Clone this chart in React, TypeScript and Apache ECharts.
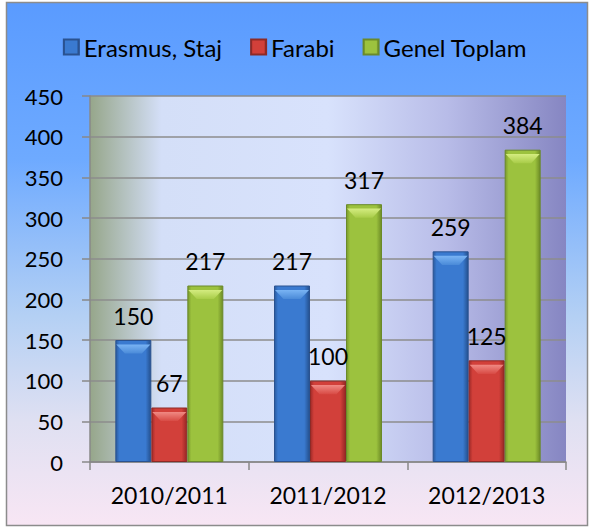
import React, { useEffect, useRef } from "react";
import * as echarts from "echarts";

const categories = ["2010/2011", "2011/2012", "2012/2013"];
const erasmus = [150, 217, 259];
const farabi = [67, 100, 125];
const genel = [217, 317, 384];
const seriesNames = ["Erasmus, Staj", "Farabi", "Genel Toplam"];

const FONT = "Lato, 'Open Sans', sans-serif";

const hgrad = (edge: string, mid: string, edge2: string) => ({
  type: "linear",
  x: 0,
  y: 0,
  x2: 1,
  y2: 0,
  colorStops: [
    { offset: 0, color: edge },
    { offset: 0.1, color: mid },
    { offset: 0.85, color: mid },
    { offset: 1, color: edge2 },
  ],
});

const vgrad = (top: string, bottom: string) => ({
  type: "linear",
  x: 0,
  y: 0,
  x2: 0,
  y2: 1,
  colorStops: [
    { offset: 0, color: top },
    { offset: 1, color: bottom },
  ],
});

export default function App() {
  const ref = useRef<HTMLDivElement>(null);
  useEffect(() => {
    if (!ref.current) return;
    const chart = echarts.init(ref.current, null, { renderer: "svg" });
    const label = {
      show: true,
      position: "top",
      distance: 13,
      color: "#000",
      fontSize: 23,
      fontFamily: FONT,
    };
    const mk = (name: string, data: number[], fill: any, border: string) => ({
      name,
      type: "bar",
      data,
      barWidth: 36,
      barGap: "0%",
      itemStyle: { color: fill, borderColor: border, borderWidth: 1 },
      label,
    });
    const bevel = (name: string, data: number[], fill: any) => ({
      name,
      type: "pictorialBar",
      data,
      barWidth: 36,
      barGap: "0%",
      symbol: "path://M0,0 L36,0 L27,9 L9,9 Z",
      symbolSize: [34, 9],
      symbolPosition: "end",
      symbolOffset: [0, "50%"],
      symbolRepeat: false,
      itemStyle: { color: fill },
      z: 3,
      silent: true,
      label: { show: false },
    });
    chart.setOption({
      animation: false,
      backgroundColor: "#ffffff",
      graphic: [
        {
          type: "rect",
          z: -10,
          silent: true,
          shape: { x: 6.5, y: 2.5, width: 581, height: 523 },
          style: {
            fill: {
              type: "linear",
              x: 0,
              y: 0,
              x2: 0,
              y2: 1,
              colorStops: [
                { offset: 0, color: "#5a9bff" },
                { offset: 0.3, color: "#6eaaff" },
                { offset: 0.6, color: "#b4d0f4" },
                { offset: 0.8, color: "#dfe0f2" },
                { offset: 1, color: "#f8e6f4" },
              ],
            },
            stroke: "#8c8c8c",
            lineWidth: 1.5,
          },
        },
      ],
      legend: {
        top: 30,
        left: "center",
        icon: "rect",
        itemWidth: 15,
        itemHeight: 15,
        itemGap: 28,
        textStyle: { fontSize: 24, fontFamily: FONT, color: "#000" },
        data: seriesNames,
      },
      grid: {
        left: 90,
        right: 24,
        top: 96,
        bottom: 67,
        show: true,
        borderWidth: 0,
        backgroundColor: {
          type: "linear",
          x: 0,
          y: 0,
          x2: 1,
          y2: 0,
          colorStops: [
            { offset: 0, color: "#96a68a" },
            { offset: 0.15, color: "#d4dff8" },
            { offset: 0.5, color: "#d8e2fc" },
            { offset: 0.75, color: "#b8bce8" },
            { offset: 1, color: "#8686c2" },
          ],
        },
      },
      xAxis: {
        type: "category",
        data: categories,
        axisLine: { show: true, lineStyle: { color: "#888", width: 1.5 } },
        axisTick: { show: true, length: 8, lineStyle: { color: "#888", width: 1.5 } },
        axisLabel: { fontSize: 23, fontFamily: FONT, color: "#000", margin: 21 },
      },
      yAxis: {
        type: "value",
        min: 0,
        max: 450,
        interval: 50,
        axisLine: { show: true, lineStyle: { color: "#888", width: 1.5 } },
        axisTick: { show: true, length: 8, lineStyle: { color: "#888", width: 1.5 } },
        axisLabel: { fontSize: 22, fontFamily: FONT, color: "#000", margin: 27 },
        splitLine: { show: true, lineStyle: { color: "#8c8c8c", width: 1.5 } },
      },
      series: [
        mk(seriesNames[0], erasmus, hgrad("#2a5a9e", "#3a7ad0", "#24508e"), "#2a5290"),
        mk(seriesNames[1], farabi, hgrad("#a02a28", "#d2403a", "#962624"), "#8e2a26"),
        mk(seriesNames[2], genel, hgrad("#7a9a2c", "#9cc23e", "#6e8c26"), "#6a8a2a"),
        bevel(seriesNames[0], erasmus, vgrad("#7ab4f4", "#4a8ad8")),
        bevel(seriesNames[1], farabi, vgrad("#f08a84", "#d84a44")),
        bevel(seriesNames[2], genel, vgrad("#d4ec80", "#a8cc48")),
      ],
    });
    return () => chart.dispose();
  }, []);
  return (
    <div
      ref={ref}
      style={{ position: "absolute", left: 0, top: 0, width: 590, height: 529 }}
    />
  );
}
